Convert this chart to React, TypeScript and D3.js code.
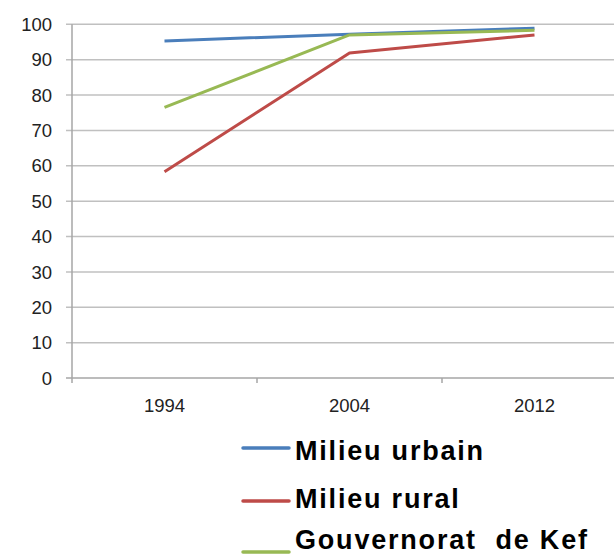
import React from "react";
import * as d3 from "d3";

const years = ["1994", "2004", "2012"];
const urbain = [95.3, 97.2, 98.9];
const rural = [58.3, 91.9, 97.0];
const kef = [76.5, 97.0, 98.3];
const yTicks = [0, 10, 20, 30, 40, 50, 60, 70, 80, 90, 100];
const seriesNames = ["Milieu urbain", "Milieu rural", "Gouvernorat  de Kef"];
const seriesColors = ["#4a7ebb", "#be4b48", "#98b954"];

export default function App() {
  const W = 614, H = 556;
  const x0 = 72, x1 = 627;
  const y = d3.scaleLinear().domain([0, 100]).range([378, 24.3]);
  const x = d3.scaleBand().domain(years).range([x0, x1]).padding(0);
  const cx = (c: string) => (x(c) as number) + x.bandwidth() / 2;
  const series = [urbain, rural, kef];
  const line = d3
    .line<number>()
    .x((_, i) => cx(years[i]))
    .y((v) => y(v));
  const gridColor = "#c0c0c0";
  const axisColor = "#a6a6a6";
  const legendLineY = [448, 501, 552];
  const legendTextY = [460, 508, 549];
  return (
    <svg
      width={W}
      height={H}
      style={{ position: "absolute", left: 0, top: 0, background: "#fff" }}
      fontFamily="'Liberation Sans', Arial, sans-serif"
    >
      {yTicks.map((t) => (
        <g key={t}>
          <line
            x1={66}
            x2={W}
            y1={y(t)}
            y2={y(t)}
            stroke={t === 0 ? axisColor : gridColor}
            strokeWidth={1.5}
          />
          <text
            x={52}
            y={y(t)}
            dy="0.36em"
            textAnchor="end"
            fontSize={18.5}
            fill="#222"
          >
            {t}
          </text>
        </g>
      ))}
      <line x1={x0} x2={x0} y1={y(100)} y2={383} stroke={axisColor} strokeWidth={1.5} />
      {years.map((c, i) =>
        i > 0 ? (
          <line
            key={"tk" + c}
            x1={x(c) as number}
            x2={x(c) as number}
            y1={378}
            y2={383}
            stroke={axisColor}
            strokeWidth={1.5}
          />
        ) : null
      )}
      {years.map((c) => (
        <text
          key={"xl" + c}
          x={cx(c)}
          y={411.7}
          textAnchor="middle"
          fontSize={18.5}
          fill="#222"
        >
          {c}
        </text>
      ))}
      {series.map((s, i) => (
        <path
          key={"s" + i}
          d={line(s) as string}
          fill="none"
          stroke={seriesColors[i]}
          strokeWidth={3}
          strokeLinejoin="round"
        />
      ))}
      {seriesNames.map((n, i) => (
        <g key={"lg" + i}>
          <line
            x1={243}
            x2={289}
            y1={legendLineY[i]}
            y2={legendLineY[i]}
            stroke={seriesColors[i]}
            strokeWidth={3.5}
            strokeLinecap="round"
          />
          <text
            x={295}
            y={legendTextY[i]}
            fontSize={27}
            fontWeight="bold"
            letterSpacing={1.8}
            fill="#000"
            style={{ whiteSpace: "pre" }}
          >
            {n}
          </text>
        </g>
      ))}
    </svg>
  );
}
